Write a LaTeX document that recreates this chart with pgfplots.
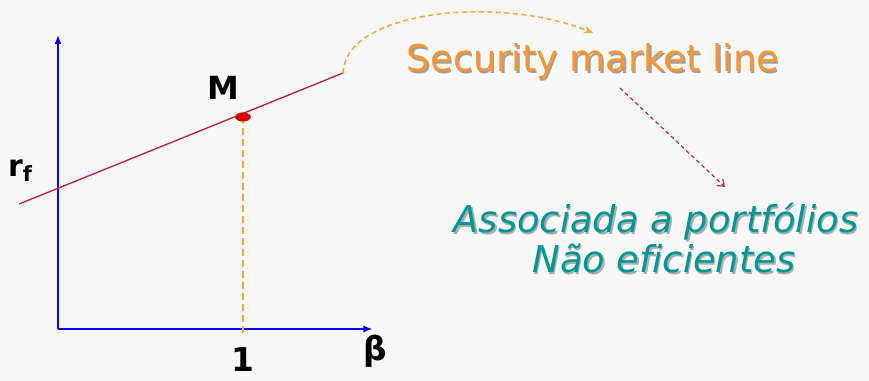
\documentclass[border=0pt]{standalone}
\usepackage{pgfplots}
\pgfplotsset{compat=1.18}
\usepackage{fontspec}
\setmainfont[Ligatures=NoCommon]{DejaVu Sans}
\usetikzlibrary{arrows.meta}
\definecolor{bgc}{RGB}{248,248,248}
\definecolor{smlred}{RGB}{190,30,55}
\definecolor{mred}{RGB}{215,0,0}
\definecolor{orng}{RGB}{250,150,50}
\definecolor{orngline}{RGB}{255,165,60}
\definecolor{teal2}{RGB}{0,150,150}
\definecolor{arrred}{RGB}{200,40,50}
\begin{document}
\begin{tikzpicture}
\begin{axis}[
  x=185bp, y=100bp,
  xmin=-0.3135, xmax=4.384, ymin=-0.52, ymax=3.29,
  axis lines=none, clip=false,
  axis background/.style={fill=bgc},
]
% axes
\addplot[blue, line width=1.4bp, -{Latex[length=9bp,width=7bp]}] coordinates {(0,0) (0,2.94)};
\addplot[blue, line width=1.4bp, -{Latex[length=9bp,width=7bp]}] coordinates {(0,0) (1.70,0)};
% security market line
\addplot[smlred, line width=1.3bp] coordinates {(-0.21,1.25) (1.541,2.56)};
% dashed projection from M
\addplot[orngline, line width=2bp, dash pattern=on 7bp off 4bp] coordinates {(1,2.12) (1,-0.08)};
% market portfolio M
\addplot[mred, only marks, mark=*, mark size=4.3bp, mark options={xscale=1.75, draw=mred, fill=mred}] coordinates {(1,2.12)};
% labels
\node[font=\bfseries\fontsize{32}{32}\selectfont] at (axis cs:0.892,2.41) {M};
\node[anchor=base, inner sep=0pt, font=\bfseries\fontsize{33}{33}\selectfont] at (axis cs:1,-0.425) {1};
\node[font=\bfseries\fontsize{33}{33}\selectfont] at (axis cs:1.714,-0.22) {β};
\node[anchor=base west, inner sep=0pt, font=\bfseries\fontsize{30}{30}\selectfont] at (axis cs:-0.27,1.52) {r\raisebox{-5bp}{\fontsize{21}{21}\selectfont f}};
% curved arrow
\draw[orngline, line width=1.5bp, dash pattern=on 5bp off 3.5bp, -{Stealth[length=9bp,width=8bp]}]
  (axis cs:1.541,2.56) .. controls (axis cs:1.551,3.19) and (axis cs:2.389,3.34) .. (axis cs:2.892,2.96);
% Security market line text with shadow
\node[anchor=base, inner sep=0pt, text=black!60, opacity=0.6, font=\fontsize{37}{37}\selectfont] at ([xshift=1.5bp,yshift=-1.5bp]axis cs:2.892,2.57) {Security market line};
\node[anchor=base, inner sep=0pt, text=orng, font=\fontsize{37}{37}\selectfont] at (axis cs:2.892,2.57) {Security market line};
% red dashed arrow
\draw[arrred, line width=1.2bp, dash pattern=on 4bp off 3bp, -{Straight Barb[length=6bp,width=9bp]}]
  (axis cs:3.038,2.41) -- (axis cs:3.605,1.42);
% teal text with shadow
\node[anchor=base, inner sep=0pt, text=black!60, opacity=0.5, font=\itshape\fontsize{37}{37}\selectfont] at ([xshift=1.5bp,yshift=-1.5bp]axis cs:3.232,0.96) {Associada a portfólios};
\node[anchor=base, inner sep=0pt, text=teal2, font=\itshape\fontsize{37}{37}\selectfont] at (axis cs:3.232,0.96) {Associada a portfólios};
\node[anchor=base, inner sep=0pt, text=black!60, opacity=0.5, font=\itshape\fontsize{37}{37}\selectfont] at ([xshift=1.5bp,yshift=-1.5bp]axis cs:3.276,0.56) {Não eficientes};
\node[anchor=base, inner sep=0pt, text=teal2, font=\itshape\fontsize{37}{37}\selectfont] at (axis cs:3.276,0.56) {Não eficientes};
\end{axis}
\pgfresetboundingbox
\path (current axis.south west) rectangle (current axis.north east);
\end{tikzpicture}
\end{document}
